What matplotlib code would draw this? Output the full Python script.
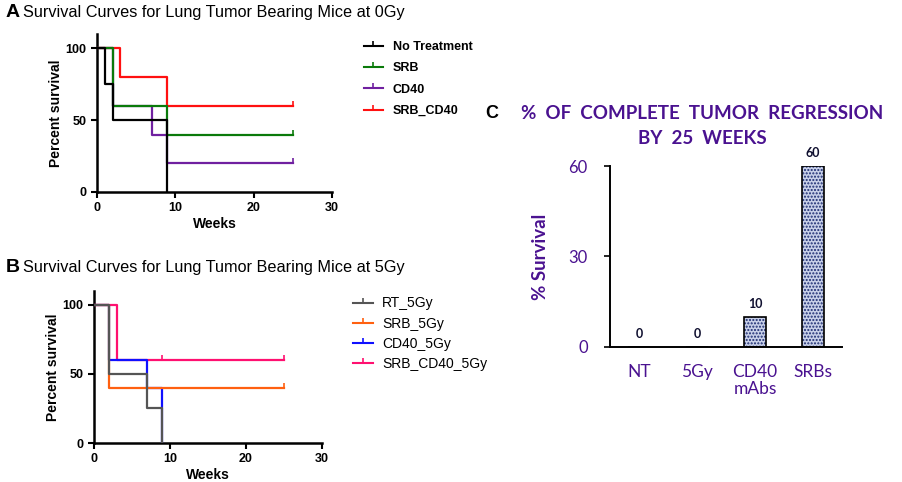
import numpy as np
import matplotlib.pyplot as plt
from matplotlib.path import Path
from matplotlib.lines import Line2D

# panel A: survival at 0Gy (weeks, percent)
a_names = ['No Treatment', 'SRB', 'CD40', 'SRB_CD40']
a_times = [[0, 1, 2, 9], [0, 2, 9, 25], [0, 2, 7, 9, 25], [0, 3, 9, 25]]
a_surv = [[100, 75, 50, 0], [100, 60, 40, 40], [100, 60, 40, 20, 20], [100, 80, 60, 60]]
a_cens = [[], [25], [25], [25]]
a_colors = ['black', '#0a7a0a', '#7020a0', '#ff1010']

# panel B: survival at 5Gy
b_names = ['RT_5Gy', 'SRB_5Gy', 'CD40_5Gy', 'SRB_CD40_5Gy']
b_times = [[0, 2, 7, 9], [0, 2, 25], [0, 2, 7, 9], [0, 3, 25]]
b_surv = [[100, 50, 25, 0], [100, 40, 40], [100, 60, 40, 0], [100, 60, 60]]
b_cens = [[], [25], [], [9, 25]]
b_colors = ['#555555', '#ff6010', '#1010ff', '#ff1070']

# panel C: complete regression by 25 weeks
c_groups = ['NT', '5Gy', 'CD40\nmAbs', 'SRBs']
c_values = [0, 0, 10, 60]

plt.rcParams['font.family'] = ['Liberation Sans', 'DejaVu Sans']
purple = '#4a1290'
lato = ['Lato', 'DejaVu Sans']

# upward censor tick
tick_mark = Path([(0, 0), (0, 1)], [Path.MOVETO, Path.LINETO])

fig = plt.figure(figsize=(9.03, 4.82), dpi=100)


def survival_panel(rect, names, times, surv, cens, colors):
    ax = fig.add_axes(rect)
    n = len(names)
    for k in range(n):
        z = 10 - k  # first data set on top, like Prism
        ax.plot(times[k], surv[k], drawstyle='steps-post', color=colors[k], lw=1.6, zorder=z)
        if cens[k]:
            cy = [surv[k][-1]] * len(cens[k])
            ax.plot(cens[k], cy, ls='none', marker=tick_mark, ms=7, mew=1.2,
                    color=colors[k], zorder=z)
    ax.set_xlim(0, 30)
    ax.set_ylim(0, 110)
    ax.set_xticks([0, 10, 20, 30])
    ax.set_yticks([0, 50, 100])
    for s in ['top', 'right']:
        ax.spines[s].set_visible(False)
    for s in ['left', 'bottom']:
        ax.spines[s].set_linewidth(1.8)
    ax.tick_params(width=1.5, length=4, labelsize=9)
    for lab in ax.get_xticklabels() + ax.get_yticklabels():
        lab.set_fontweight('bold')
    ax.set_xlabel('Weeks', fontsize=10, fontweight='bold', labelpad=2)
    ax.set_ylabel('Percent survival', fontsize=10, fontweight='bold', labelpad=2)
    handles = [Line2D([], [], color=c, lw=1.5, marker=tick_mark, ms=7, mew=1.2) for c in colors]
    return ax, handles


axA, hA = survival_panel([0.1074, 0.6017, 0.2602, 0.3278], a_names, a_times, a_surv, a_cens, a_colors)
fig.legend(hA, a_names, loc='upper left', bbox_to_anchor=(0.403, 0.915), frameon=False,
           prop={'weight': 'bold', 'size': 9}, handlelength=1.5, handletextpad=0.8,
           labelspacing=0.75, borderpad=0, borderaxespad=0, numpoints=1)

axB, hB = survival_panel([0.1041, 0.0809, 0.2525, 0.3154], b_names, b_times, b_surv, b_cens, b_colors)
fig.legend(hB, b_names, loc='upper left', bbox_to_anchor=(0.391, 0.385), frameon=False,
           prop={'size': 10}, handlelength=1.4, handletextpad=0.7,
           labelspacing=0.45, borderpad=0, borderaxespad=0, numpoints=1)

fig.text(0.006, 0.975, 'A', fontsize=14, fontweight='bold', va='center')
fig.text(0.026, 0.975, 'Survival Curves for Lung Tumor Bearing Mice at 0Gy', fontsize=11.7, va='center')
fig.text(0.006, 0.446, 'B', fontsize=14, fontweight='bold', va='center')
fig.text(0.026, 0.446, 'Survival Curves for Lung Tumor Bearing Mice at 5Gy', fontsize=11.7, va='center')

# panel C bars
axC = fig.add_axes([0.6755, 0.2801, 0.2569, 0.3755])
x = np.arange(len(c_groups))
axC.bar(x, c_values, width=0.38, color='#c8d0e8', edgecolor='#1a2a70', hatch='.....', lw=0, zorder=2)
axC.bar(x, c_values, width=0.38, fill=False, edgecolor='black', lw=1.2, zorder=3)
for xi, v in zip(x, c_values):
    axC.annotate(str(v), (xi, v), xytext=(0, 5), textcoords='offset points', ha='center',
                 va='bottom', fontsize=9, fontweight='bold', color='#101030', family=lato)
axC.set_xlim(-0.5, 3.5)
axC.set_ylim(0, 60)
axC.set_yticks([0, 30, 60])
axC.set_xticks(x)
axC.set_xticklabels(c_groups, fontsize=12.5, color=purple, family=lato, linespacing=1.1)
axC.tick_params(axis='x', length=0, pad=12)
axC.tick_params(axis='y', length=4, width=1.2, labelsize=12, labelcolor=purple, pad=12)
for lab in axC.get_yticklabels():
    lab.set_family(lato)
for s in ['top', 'right']:
    axC.spines[s].set_visible(False)
for s in ['left', 'bottom']:
    axC.spines[s].set_linewidth(1.4)
axC.spines['left'].set_bounds(0, 60)
axC.set_ylabel('% Survival', fontsize=13.5, fontweight='bold', color=purple,
               family=lato, labelpad=14)

fig.text(0.537, 0.765, 'C', fontsize=13, fontweight='bold', va='center')
fig.text(0.778, 0.765, '%  OF  COMPLETE  TUMOR  REGRESSION', fontsize=13.5, fontweight='bold',
         color=purple, ha='center', va='center', family=lato)
fig.text(0.778, 0.713, 'BY  25  WEEKS', fontsize=13.5, fontweight='bold',
         color=purple, ha='center', va='center', family=lato)

fig.savefig('out.png', dpi=100)
